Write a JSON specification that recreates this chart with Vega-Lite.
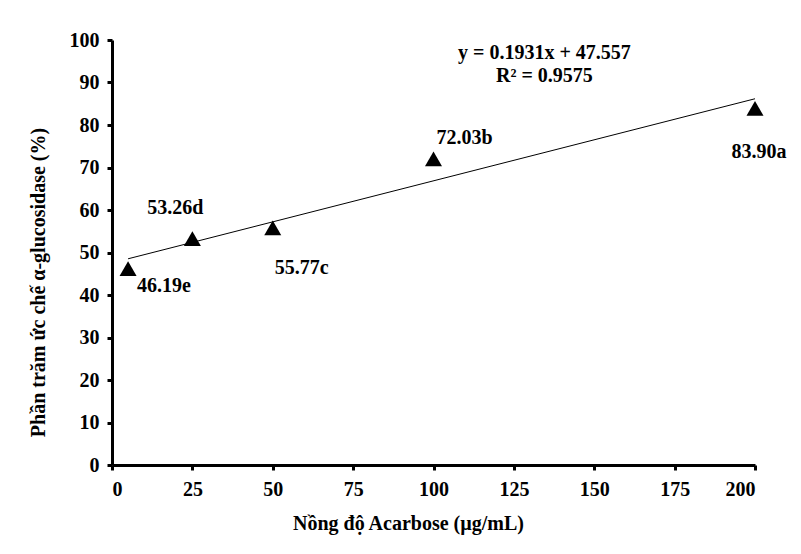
{
  "$schema": "https://vega.github.io/schema/vega-lite/v6.json",
  "width": 643,
  "height": 425,
  "autosize": "none",
  "padding": {"left": 112, "top": 40, "right": 46, "bottom": 89},
  "background": "white",
  "config": {
    "view": {"stroke": null},
    "font": "Liberation Serif",
    "axis": {"grid": false, "domainColor": "black", "domainWidth": 3, "tickColor": "black", "tickWidth": 3, "tickSize": 5, "labelFont": "Liberation Serif", "labelFontSize": 20, "labelFontWeight": "bold", "labelColor": "black", "titleFont": "Liberation Serif", "titleFontSize": 20, "titleFontWeight": "bold", "titleColor": "black"}
  },
  "datasets": {
    "pts": [
      {"x": 5, "y": 46.19, "label": "46.19e"},
      {"x": 25, "y": 53.26, "label": "53.26d"},
      {"x": 50, "y": 55.77, "label": "55.77c"},
      {"x": 100, "y": 72.03, "label": "72.03b"},
      {"x": 200, "y": 83.90, "label": "83.90a"}
    ],
    "eq": [
      {"x": 134.5, "y": 96.9, "t": "y = 0.1931x + 47.557"},
      {"x": 134.5, "y": 91.5, "t": "R² = 0.9575"}
    ]
  },
  "data": {"name": "pts"},
  "encoding": {
    "x": {"field": "x", "type": "quantitative", "scale": {"domain": [0, 200], "nice": false}, "axis": {"values": [0, 25, 50, 75, 100, 125, 150, 175, 200], "title": "Nồng độ Acarbose (µg/mL)", "labelPadding": 9, "titlePadding": 14, "titleX": 296}},
    "y": {"field": "y", "type": "quantitative", "scale": {"domain": [0, 100], "nice": false}, "axis": {"values": [0, 10, 20, 30, 40, 50, 60, 70, 80, 90, 100], "title": "Phần trăm ức chế α-glucosidase (%)", "labelPadding": 8, "titlePadding": 21, "titleY": 242}}
  },
  "layer": [
    {
      "transform": [{"regression": "y", "on": "x"}],
      "mark": {"type": "line", "color": "black", "strokeWidth": 1}
    },
    {
      "mark": {"type": "point", "shape": "triangle-up", "filled": true, "color": "black", "opacity": 1, "size": 290}
    },
    {
      "transform": [{"filter": "datum.label == '46.19e'"}],
      "mark": {"type": "text", "align": "left", "baseline": "middle", "dx": 9, "dy": 17, "fontSize": 20, "fontWeight": "bold", "font": "Liberation Serif", "color": "black"},
      "encoding": {"text": {"field": "label"}}
    },
    {
      "transform": [{"filter": "datum.label == '53.26d'"}],
      "mark": {"type": "text", "align": "center", "baseline": "middle", "dx": -17, "dy": -31, "fontSize": 20, "fontWeight": "bold", "font": "Liberation Serif", "color": "black"},
      "encoding": {"text": {"field": "label"}}
    },
    {
      "transform": [{"filter": "datum.label == '55.77c'"}],
      "mark": {"type": "text", "align": "left", "baseline": "middle", "dx": 2, "dy": 40, "fontSize": 20, "fontWeight": "bold", "font": "Liberation Serif", "color": "black"},
      "encoding": {"text": {"field": "label"}}
    },
    {
      "transform": [{"filter": "datum.label == '72.03b'"}],
      "mark": {"type": "text", "align": "left", "baseline": "middle", "dx": 3, "dy": -21, "fontSize": 20, "fontWeight": "bold", "font": "Liberation Serif", "color": "black"},
      "encoding": {"text": {"field": "label"}}
    },
    {
      "transform": [{"filter": "datum.label == '83.90a'"}],
      "mark": {"type": "text", "align": "center", "baseline": "middle", "dx": 4, "dy": 44, "fontSize": 20, "fontWeight": "bold", "font": "Liberation Serif", "color": "black"},
      "encoding": {"text": {"field": "label"}}
    },
    {
      "data": {"name": "eq"},
      "mark": {"type": "text", "align": "center", "baseline": "middle", "fontSize": 20, "fontWeight": "bold", "font": "Liberation Serif", "color": "black"},
      "encoding": {"text": {"field": "t"}}
    }
  ]
}
